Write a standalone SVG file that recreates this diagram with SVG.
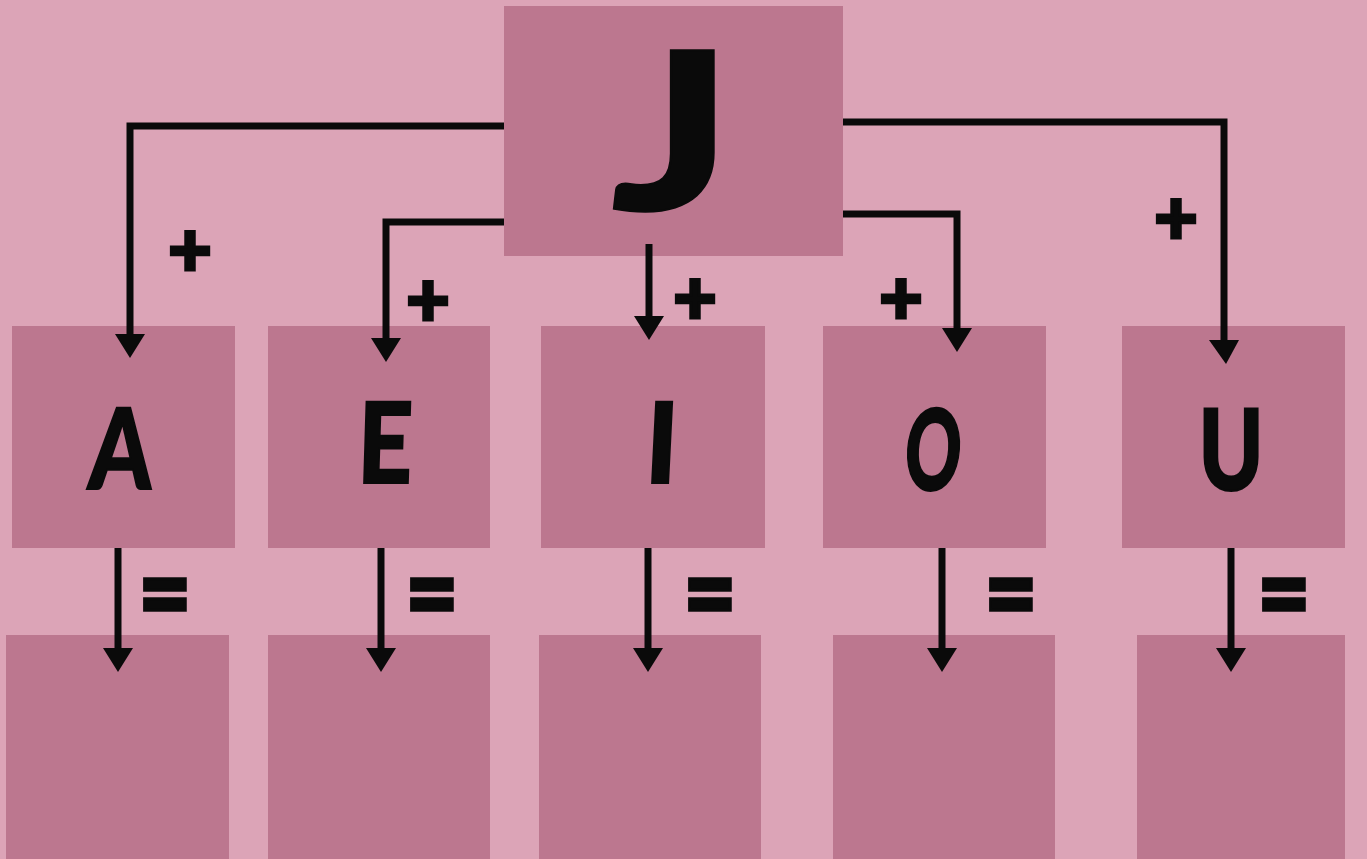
<svg xmlns="http://www.w3.org/2000/svg" width="1367" height="859" viewBox="0 0 1367 859">
<defs>
<style>
.box{fill:#bc778f}
.ln{fill:none;stroke:#0a0a0a;stroke-width:7;stroke-linejoin:miter}
.hd{fill:#0a0a0a}
.big{font-family:Lato,"DejaVu Sans",sans-serif;font-weight:900;fill:#0a0a0a;stroke:#0a0a0a;stroke-width:2;text-anchor:middle}
.op{font-family:Lato,"DejaVu Sans",sans-serif;font-weight:900;fill:#0a0a0a;stroke:#0a0a0a;stroke-width:3;text-anchor:middle}
</style>
</defs>
<rect width="1367" height="859" fill="#dca4b7"/>
<g id="node-J"><rect class="box" x="504" y="6" width="339" height="250"/><text class="big" font-size="220" transform="translate(672 210) scale(1.28 1)">J</text></g>
<g id="node-A"><rect class="box" x="12" y="326" width="223" height="222"/><text class="big" font-size="112" transform="translate(119 489) scale(0.8 1) skewX(-4)">A</text></g>
<g id="node-E"><rect class="box" x="268" y="326" width="222" height="222"/><text class="big" font-size="112" transform="translate(384 483) scale(0.85 1) skewX(-2)">E</text></g>
<g id="node-I"><rect class="box" x="541" y="326" width="224" height="222"/><text class="big" font-size="112" transform="translate(660 483) scale(0.95 1) skewX(-3)">I</text></g>
<g id="node-O"><rect class="box" x="823" y="326" width="223" height="222"/><text class="big" font-size="112" transform="translate(931 490) scale(0.62 1) skewX(-6)">O</text></g>
<g id="node-U"><rect class="box" x="1122" y="326" width="223" height="222"/><text class="big" font-size="112" transform="translate(1231 490) scale(0.78 1)">U</text></g>
<g id="res-A"><rect class="box" x="6" y="635" width="223" height="224"/></g>
<g id="res-E"><rect class="box" x="268" y="635" width="222" height="224"/></g>
<g id="res-I"><rect class="box" x="539" y="635" width="222" height="224"/></g>
<g id="res-O"><rect class="box" x="833" y="635" width="222" height="224"/></g>
<g id="res-U"><rect class="box" x="1137" y="635" width="208" height="224"/></g>
<g id="connectors">
<path class="ln" d="M504 126 H130 V336"/>
<path class="hd" d="M115 334 H145 L130 358 Z"/>
<path class="ln" d="M504 222 H386 V340"/>
<path class="hd" d="M371 338 H401 L386 362 Z"/>
<path class="ln" d="M649 244 V318"/>
<path class="hd" d="M634 316 H664 L649 340 Z"/>
<path class="ln" d="M843 214 H957 V330"/>
<path class="hd" d="M942 328 H972 L957 352 Z"/>
<path class="ln" d="M843 122 H1224 V342"/>
<path class="hd" d="M1209 340 H1239 L1226 364 Z"/>
<path class="ln" d="M118 548 V650"/>
<path class="hd" d="M103 648 H133 L118 672 Z"/>
<path class="ln" d="M381 548 V650"/>
<path class="hd" d="M366 648 H396 L381 672 Z"/>
<path class="ln" d="M648 548 V650"/>
<path class="hd" d="M633 648 H663 L648 672 Z"/>
<path class="ln" d="M942 548 V650"/>
<path class="hd" d="M927 648 H957 L942 672 Z"/>
<path class="ln" d="M1231 548 V650"/>
<path class="hd" d="M1216 648 H1246 L1231 672 Z"/>
</g>
<g id="labels">
<text class="op" x="190" y="276" font-size="76">+</text>
<text class="op" x="428" y="326" font-size="76">+</text>
<text class="op" x="695" y="324" font-size="76">+</text>
<text class="op" x="901" y="324" font-size="76">+</text>
<text class="op" x="1176" y="244" font-size="76">+</text>
<text class="op" font-size="96" transform="translate(165 632) scale(0.95 1.15)">=</text>
<text class="op" font-size="96" transform="translate(432 632) scale(0.95 1.15)">=</text>
<text class="op" font-size="96" transform="translate(710 632) scale(0.95 1.15)">=</text>
<text class="op" font-size="96" transform="translate(1011 632) scale(0.95 1.15)">=</text>
<text class="op" font-size="96" transform="translate(1284 632) scale(0.95 1.15)">=</text>
</g>
</svg>
